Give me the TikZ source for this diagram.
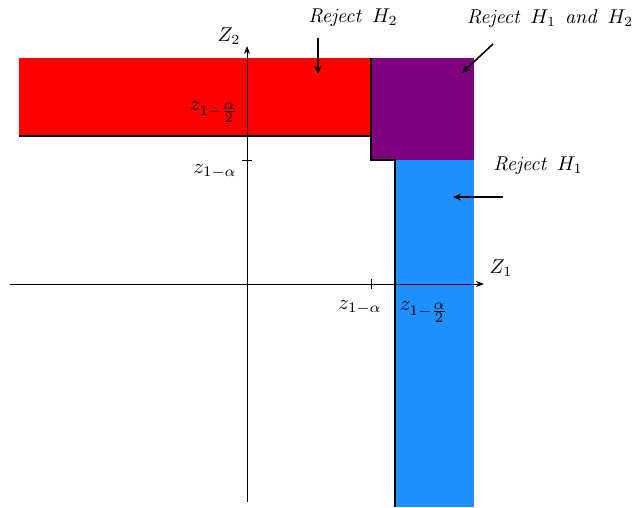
\documentclass[tikz,border=0pt]{standalone}
\usepackage{graphicx}
\usetikzlibrary{arrows.meta}
\definecolor{rejred}{RGB}{255,0,0}
\definecolor{rejpurple}{RGB}{128,0,128}
\definecolor{rejblue}{RGB}{30,144,255}
\newcommand{\BigLbl}[1]{\scalebox{2.0}{#1}}
\newcommand{\SubLbl}[1]{\scalebox{2.1}{#1}}
\newcommand{\halfal}{\frac{\scriptstyle\alpha}{\scriptstyle 2}}
\begin{document}
\begin{tikzpicture}[x=1pt,y=-1pt,
  axis/.style={line width=0.9pt,-{Stealth[length=8pt,width=6pt]}},
  edge/.style={line width=1.1pt},
  lbl/.style={inner sep=0pt},
  ptr/.style={line width=1.6pt,-{Stealth[length=8pt,width=7pt]}}]
\useasboundingbox (0,0) rectangle (643,507);
% regions
\fill[rejred] (19,58) rectangle (372,136);
\fill[rejpurple] (371,58) rectangle (474,160);
\fill[rejblue] (395,160) rectangle (474,507);
\draw[edge] (19,136) -- (371,136) -- (371,58);
\draw[edge] (371,136) -- (371,160) -- (395,160) -- (395,507);
% axes
\coordinate (xs) at (10,284);
\coordinate (xe) at (484,284);
\coordinate (ys) at (247,502);
\coordinate (ye) at (247,46);
\draw[axis] (xs) -- (xe);
\draw[axis] (ys) -- (ye);
% ticks
\draw[line width=0.9pt] (371,279) -- (371,289);
\draw[line width=0.9pt] (242,160) -- (252,160);
% axis labels
\node[lbl] (z2) at (229,36) {\BigLbl{$Z_2$}};
\node[lbl] (z1) at (501,268) {\BigLbl{$Z_1$}};
\node[lbl] (ya2) at (214,112) {\SubLbl{$z_{1-\halfal}$}};
\node[lbl] (ya) at (215,171) {\SubLbl{$z_{1-\alpha}$}};
\node[lbl] (xa) at (360,307) {\SubLbl{$z_{1-\alpha}$}};
\node[lbl] (xa2) at (424,312) {\SubLbl{$z_{1-\halfal}$}};
% region labels
\node[lbl] (r2) at (353,18) {\BigLbl{$\mathit{Reject}\;\,H_2$}};
\node[lbl] (r12) at (550,18) {\BigLbl{$\mathit{Reject}\;\,H_1\;\,\mathit{and}\;\,H_2$}};
\node[lbl] (r1) at (538,166) {\BigLbl{$\mathit{Reject}\;\,H_1$}};
\coordinate (a2s) at (318,38);
\coordinate (a2e) at (318,74);
\coordinate (a12s) at (493,44);
\coordinate (a12e) at (462,73);
\coordinate (a1s) at (503,197);
\coordinate (a1e) at (453,197);
\draw[ptr] (a2s) -- (a2e);
\draw[ptr] (a12s) -- (a12e);
\draw[ptr] (a1s) -- (a1e);
\end{tikzpicture}
\end{document}
